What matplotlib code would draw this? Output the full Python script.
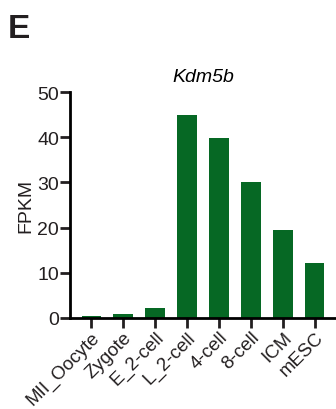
import matplotlib
matplotlib.use("Agg")
import matplotlib.pyplot as plt

plt.rcParams['font.family'] = ['Liberation Sans', 'DejaVu Sans']

stages = ['MII_Oocyte', 'Zygote', 'E_2-cell', 'L_2-cell', '4-cell', '8-cell', 'ICM', 'mESC']
fpkm = [0.4, 0.9, 2.2, 44.9, 39.8, 30.1, 19.5, 12.2]
yticks = [0, 10, 20, 30, 40, 50]

fig = plt.figure(figsize=(3.36, 4.10), dpi=100)
ax = fig.add_axes([70/336, 91/410, 266/336, 226/410])

x = list(range(len(stages)))
ax.bar(x, fpkm, width=0.6, color='#066824')

ax.set_xlim(-0.66, 7.66)
ax.set_ylim(0, 50)
ax.set_yticks(yticks)
ax.set_xticks(x)
ax.set_xticklabels(stages, rotation=45, ha='right', rotation_mode='anchor', fontsize=13.5)
ax.tick_params(axis='y', labelsize=14, length=7, width=2, pad=1, colors='#231f20')
ax.tick_params(axis='x', length=7, width=2, pad=0.5, colors='#231f20')
for lab in ax.get_yticklabels() + ax.get_xticklabels():
    lab.set_color('#231f20')

for s in ['top', 'right']:
    ax.spines[s].set_visible(False)
for s in ['left', 'bottom']:
    ax.spines[s].set_linewidth(2)
    ax.spines[s].set_color('black')

ax.set_ylabel('FPKM', fontsize=14, labelpad=2, color='#231f20')
ax.set_title('Kdm5b', fontstyle='italic', fontsize=14, pad=8)

fig.text(8/336, 1 - 38/410, 'E', fontsize=24, fontweight='bold', color='#231f20')

fig.savefig('out.png', dpi=100)
